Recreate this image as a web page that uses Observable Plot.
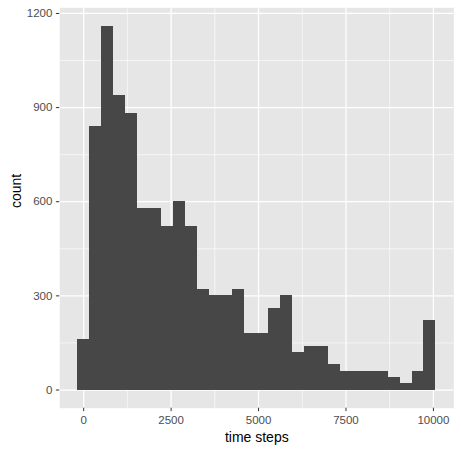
<!DOCTYPE html>
<html>
<head>
<meta charset="utf-8">
<script src="https://cdn.jsdelivr.net/npm/d3@7"></script>
<script src="https://cdn.jsdelivr.net/npm/@observablehq/plot@0.6"></script>
<style>
  html, body { margin: 0; padding: 0; background: #ffffff; }
  #chart svg { display: block; }
</style>
</head>
<body>
<div id="chart"></div>
<script>
// Histogram counts (30 bins, first bin centred on 0)
const counts = [160, 840, 1160, 940, 880, 580, 580, 520, 600, 520,
                320, 300, 300, 320, 180, 180, 260, 300, 120, 140,
                140, 80, 60, 60, 60, 60, 40, 20, 60, 220];
const binWidth = 341.4;
const firstCenter = 0;

const xTicks = [0, 2500, 5000, 7500, 10000];
const xMinor = [1250, 3750, 6250, 8750];
const yTicks = [0, 300, 600, 900, 1200];
const yMinor = [150, 450, 750, 1050];

const xTitle = "time steps";
const yTitle = "count";

const bins = counts.map((c, i) => ({
  x1: firstCenter + (i - 0.5) * binWidth,
  x2: firstCenter + (i + 0.5) * binWidth,
  count: c
}));

const font = "'Liberation Sans', Arial, Helvetica, sans-serif";

const chart = Plot.plot({
  width: 461,
  height: 450,
  marginLeft: 59.3,
  marginRight: 7.7,
  marginTop: 7.3,
  marginBottom: 42.3,
  style: { fontFamily: font, background: "#ffffff", overflow: "visible" },
  x: { domain: [-683, 10583] },
  y: { domain: [-58, 1218] },
  marks: [
    Plot.frame({ fill: "#E6E6E6", stroke: null }),
    Plot.ruleX(xMinor, { stroke: "#ffffff", strokeWidth: 0.6 }),
    Plot.ruleY(yMinor, { stroke: "#ffffff", strokeWidth: 0.6 }),
    Plot.ruleX(xTicks, { stroke: "#ffffff", strokeWidth: 1.25 }),
    Plot.ruleY(yTicks, { stroke: "#ffffff", strokeWidth: 1.25 }),
    Plot.rectY(bins, {
      x1: "x1", x2: "x2", y1: 0, y2: "count",
      fill: "#474747", inset: 0, shapeRendering: "crispEdges"
    }),
    Plot.axisX(xTicks, {
      tickSize: 3.4, tickPadding: 4, stroke: "#333333", strokeWidth: 1,
      fill: "#4D4D4D", fontSize: 11.5, label: null, tickFormat: d => String(d)
    }),
    Plot.axisY(yTicks, {
      tickSize: 3.4, tickPadding: 4, stroke: "#333333", strokeWidth: 1,
      fill: "#4D4D4D", fontSize: 11.5, label: null, tickFormat: d => String(d)
    }),
    Plot.text([xTitle], {
      frameAnchor: "bottom", text: d => d, dy: 29,
      fontSize: 14, fill: "#000000", lineAnchor: "middle"
    }),
    Plot.text([yTitle], {
      frameAnchor: "left", text: d => d, dx: -43.6, rotate: -90,
      fontSize: 14, fill: "#000000", lineAnchor: "middle"
    })
  ]
});

document.getElementById("chart").appendChild(chart);
</script>
</body>
</html>
